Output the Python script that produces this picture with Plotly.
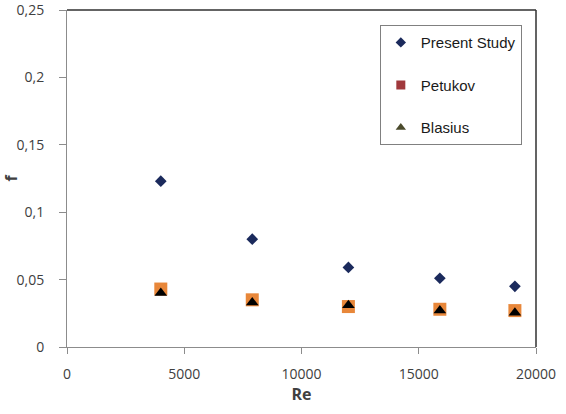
import plotly.graph_objects as go

re_vals = [4000, 7900, 12000, 15900, 19100]
f_present = [0.123, 0.080, 0.059, 0.051, 0.045]
f_petukov = [0.043, 0.035, 0.030, 0.028, 0.027]
f_blasius = [0.040, 0.033, 0.031, 0.027, 0.0255]

series_names = ["Present Study", "Petukov", "Blasius"]
y_ticks = [0, 0.05, 0.1, 0.15, 0.2, 0.25]
x_ticks = [0, 5000, 10000, 15000, 20000]

fig = go.Figure()

# plotted markers (no legend)
fig.add_trace(go.Scatter(x=re_vals, y=f_petukov, mode="markers", showlegend=False,
                         marker=dict(symbol="square", size=13, color="#E8873A")))
fig.add_trace(go.Scatter(x=re_vals, y=f_blasius, mode="markers", showlegend=False,
                         marker=dict(symbol="triangle-up", size=11, color="#000000")))
fig.add_trace(go.Scatter(x=re_vals, y=f_present, mode="markers", showlegend=False,
                         marker=dict(symbol="diamond", size=9, color="#1B2A5C")))

# legend entries (as in the original: different legend colours)
leg_styles = [("diamond", 8, "#1B2A5C"), ("square", 9, "#A0383C"), ("triangle-up", 9, "#4A4A2C")]
for i, (name, (sym, sz, col)) in enumerate(zip(series_names, leg_styles)):
    fig.add_trace(go.Scatter(x=[None], y=[None], mode="markers", name=name,
                             legendgroup=str(i),
                             marker=dict(symbol=sym, size=sz, color=col)))

tick_font = dict(family="Open Sans, Liberation Sans, sans-serif", size=14, color="#404040")
title_font = dict(family="Open Sans, sans-serif", size=16, color="#404040")

fig.update_layout(
    width=566, height=414,
    margin=dict(l=67, r=30, t=10, b=67),
    paper_bgcolor="white", plot_bgcolor="white",
    separators=",.",
    showlegend=True,
    legend=dict(x=0.667, y=0.955, xanchor="left", yanchor="top",
                bgcolor="white", bordercolor="#808080", borderwidth=1,
                font=dict(family="Liberation Sans, Arial, sans-serif", size=15, color="#1a1a1a"),
                traceorder="grouped", tracegroupgap=20, itemwidth=30),
    xaxis=dict(range=[0, 20000], tickvals=x_ticks, tickformat="d",
               automargin=False, ticklabeloverflow="allow",
               showgrid=False, zeroline=False,
               showline=True, linecolor="#8C8C8C", linewidth=1,
               ticks="outside", ticklen=6, tickcolor="#8C8C8C",
               tickfont=tick_font, ticklabelstandoff=8,
               title=dict(text="<b>Re</b>", font=title_font, standoff=2)),
    yaxis=dict(range=[0, 0.25], tickvals=y_ticks,
               automargin=False, ticklabeloverflow="allow",
               showgrid=False, zeroline=False,
               showline=True, linecolor="#8C8C8C", linewidth=1,
               ticks="outside", ticklen=7, tickcolor="#8C8C8C",
               tickfont=tick_font, ticklabelstandoff=12,
               title=dict(text="<b>f</b>", font=title_font, standoff=0)),
    shapes=[
        dict(type="line", xref="x domain", yref="y domain", x0=0, x1=1, y0=1, y1=1,
             line=dict(color="#303030", width=1.5)),
        dict(type="line", xref="x domain", yref="y domain", x0=1, x1=1, y0=0, y1=1,
             line=dict(color="#303030", width=1.5)),
    ],
)

fig.write_html("out.html", config={"displayModeBar": False},
               post_script="document.body.style.margin='0';")
